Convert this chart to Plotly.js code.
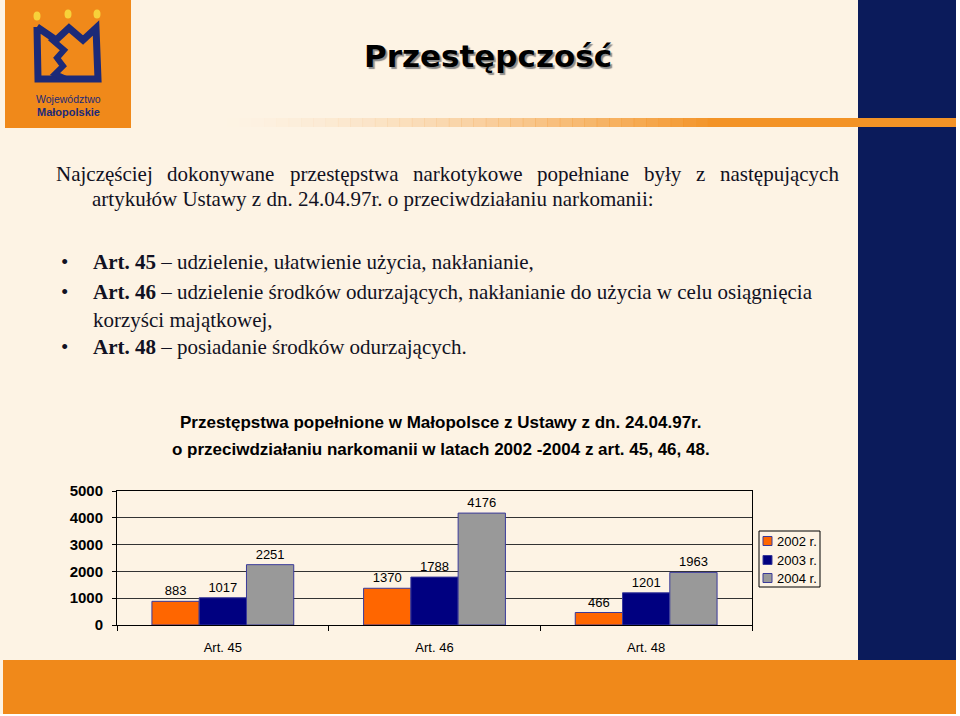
<!DOCTYPE html>
<html>
<head>
<meta charset="utf-8">
<script src="https://cdn.plot.ly/plotly-3.0.1.min.js"></script>
<style>
html,body{margin:0;padding:0;background:#fdf3e4;}
#chart{width:960px;height:716px;}
</style>
</head>
<body>
<div id="chart"></div>
<script>
// ---- data ----
const categories = ['Art. 45', 'Art. 46', 'Art. 48'];
const seriesNames = ['2002 r.', '2003 r.', '2004 r.'];
const values2002 = [883, 1370, 466];
const values2003 = [1017, 1788, 1201];
const values2004 = [2251, 4176, 1963];
const yTicks = [0, 1000, 2000, 3000, 4000, 5000];

const slideTitle = 'Przestępczość';
const introLine1 = 'Najczęściej dokonywane przestępstwa narkotykowe popełniane były z następujących';
const introLine2 = 'artykułów Ustawy z dn. 24.04.97r. o przeciwdziałaniu narkomanii:';
const bullet1 = '<b>Art. 45</b> – udzielenie, ułatwienie użycia, nakłanianie,';
const bullet2a = '<b>Art. 46</b> – udzielenie środków odurzających, nakłanianie do użycia w celu osiągnięcia';
const bullet2b = 'korzyści majątkowej,';
const bullet3 = '<b>Art. 48</b> – posiadanie środków odurzających.';
const chartTitle1 = 'Przestępstwa popełnione w Małopolsce z Ustawy z dn. 24.04.97r.';
const chartTitle2 = 'o przeciwdziałaniu narkomanii w latach 2002 -2004 z art. 45, 46, 48.';

// ---- helpers ----
const W = 960, H = 716;
const px = x => x / W;
const py = y => 1 - y / H;
const CREAM = '#fdf3e4';
const ORANGE = '#f0891a';
const NAVY = '#0b1b5b';
const TEXT = '#111122';
const BODY_SIZE = 21;
const SANS = 'Liberation Sans, Arial, sans-serif';

function rect(x0, y0, x1, y1, color, opacity, line) {
  return {type: 'rect', xref: 'paper', yref: 'paper', layer: 'below',
    x0: px(x0), x1: px(x1), y0: py(y1), y1: py(y0),
    fillcolor: color, opacity: opacity === undefined ? 1 : opacity, line: line || {width: 0}};
}
function pathShape(points, color, width) {
  const d = points.map((p, i) => (i ? 'L' : 'M') + px(p[0]).toFixed(5) + ',' + py(p[1]).toFixed(5)).join(' ');
  return {type: 'path', xref: 'paper', yref: 'paper', path: d, layer: 'above',
    line: {color: color, width: width}, fillcolor: 'rgba(0,0,0,0)'};
}
function ellipse(cx, cy, rx, ry, color) {
  return {type: 'circle', xref: 'paper', yref: 'paper', layer: 'above',
    x0: px(cx - rx), x1: px(cx + rx), y0: py(cy + ry), y1: py(cy - ry),
    fillcolor: color, line: {width: 0}};
}
function label(text, x, y, opts) {
  opts = opts || {};
  return Object.assign({
    text: text, xref: 'paper', yref: 'paper', x: px(x), y: py(y),
    xanchor: 'left', yanchor: 'middle', showarrow: false,
    font: {family: 'Liberation Serif, Times New Roman, serif', size: BODY_SIZE, color: TEXT}
  }, opts);
}

// justified line built from measured word widths
function justified(text, x0, x1, y, fontSize) {
  const c = document.createElement('canvas').getContext('2d');
  c.font = fontSize + 'px "Liberation Serif"';
  const words = text.split(' ');
  const widths = words.map(w => c.measureText(w).width);
  const total = widths.reduce((a, b) => a + b, 0);
  const gap = (x1 - x0 - total) / (words.length - 1);
  let pos = x0;
  const out = [];
  words.forEach((w, i) => {
    out.push(label(w, pos, y, {borderpad: 0}));
    pos += widths[i] + gap;
  });
  return out;
}

// ---- decorations ----
const shapes = [];
shapes.push(rect(956, 0, 960, 716, '#ffffff'));
shapes.push(rect(0, 714, 960, 716, '#ffffff'));
shapes.push(rect(5, 0, 131, 128, ORANGE));           // logo box
shapes.push(rect(858, 0, 956, 660, NAVY));           // right bar
shapes.push(rect(3, 660, 956, 714, ORANGE));         // bottom band
// gradient rule under header
const gSteps = 40, gx0 = 227, gx1 = 720;
for (let i = 0; i < gSteps; i++) {
  const a = gx0 + (gx1 - gx0) * i / gSteps, b = gx0 + (gx1 - gx0) * (i + 1) / gSteps + 0.5;
  shapes.push(rect(a, 118, b, 127, '#f39326', Math.pow((i + 1) / gSteps, 1.6)));
}
shapes.push(rect(gx1, 118, 956, 127, '#f39326'));
// logo crown
shapes.push(ellipse(37, 16, 3.5, 4.5, '#f7d23a'));
shapes.push(ellipse(68, 14, 3.5, 4.5, '#f7d23a'));
shapes.push(ellipse(97, 14, 3.5, 4.5, '#f7d23a'));
shapes.push(pathShape([[37, 27], [38, 79], [98, 79], [96, 28], [83, 40], [69, 28], [56, 40], [37, 27]], '#1c2a78', 7));
shapes.push(pathShape([[50, 38], [64, 50], [57, 58], [63, 66], [55, 74], [66, 79]], '#1c2a78', 6));

// manual legend (matches the reference's compact box)
const colors = ['#ff6600', '#000080', '#999999'];
const legendRows = [541, 560, 578];
shapes.push({type: 'rect', xref: 'paper', yref: 'paper', layer: 'above',
  x0: px(759), x1: px(820), y0: py(587), y1: py(531),
  fillcolor: 'rgba(0,0,0,0)', line: {color: '#000', width: 1}});
seriesNames.forEach((n, i) => {
  shapes.push({type: 'rect', xref: 'paper', yref: 'paper', layer: 'above',
    x0: px(763), x1: px(772), y0: py(legendRows[i] + 4.5), y1: py(legendRows[i] - 4.5),
    fillcolor: colors[i], line: {color: '#3a3a9a', width: 1}});
});

// ---- text ----
const annotations = [];
annotations.push(label('Województwo', 68, 99, {xanchor: 'center',
  font: {family: SANS, size: 10.5, color: '#1c2a78'}}));
annotations.push(label('<b>Małopolskie</b>', 68, 112, {xanchor: 'center',
  font: {family: SANS, size: 11, color: '#1c2a78'}}));
annotations.push(label('<b>' + slideTitle + '</b>', 488, 56, {xanchor: 'center',
  font: {family: 'DejaVu Sans, sans-serif', size: 31, color: '#000000', shadow: '2px 2px 1px #8a8a8a'}}));

justified(introLine1, 55, 838, 174, BODY_SIZE).forEach(a => annotations.push(a));
annotations.push(label(introLine2, 90, 199));
annotations.push(label('•', 59, 262));
annotations.push(label(bullet1, 91, 262));
annotations.push(label('•', 59, 292));
annotations.push(label(bullet2a, 91, 292));
annotations.push(label(bullet2b, 91, 320));
annotations.push(label('•', 59, 347));
annotations.push(label(bullet3, 91, 347));

const chartFont = {family: SANS, size: 17, color: '#000000'};
annotations.push(label('<b>' + chartTitle1 + '</b>', 441, 422, {xanchor: 'center', font: chartFont}));
annotations.push(label('<b>' + chartTitle2 + '</b>', 441, 449, {xanchor: 'center', font: chartFont}));

seriesNames.forEach((n, i) => {
  annotations.push(label(n, 775, legendRows[i], {font: {family: SANS, size: 13, color: '#000'}}));
});

// ---- traces ----
const allValues = [values2002, values2003, values2004];
const traces = allValues.map((vals, i) => ({
  type: 'bar', name: seriesNames[i], x: categories, y: vals,
  text: vals.map(String), textposition: 'outside', cliponaxis: false,
  textfont: {family: SANS, size: 13, color: '#000'},
  marker: {color: colors[i], line: {color: '#3a3a9a', width: 1}},
  hoverinfo: 'skip'
}));

const layout = {
  width: W, height: H,
  margin: {l: 0, r: 0, t: 0, b: 0},
  paper_bgcolor: CREAM, plot_bgcolor: 'rgba(0,0,0,0)',
  barmode: 'group', bargap: 0.33, bargroupgap: 0,
  xaxis: {
    domain: [px(117), px(752)],
    type: 'category',
    showline: true, linecolor: '#000', linewidth: 1, mirror: true,
    ticks: 'outside', tickson: 'boundaries', ticklen: 5, tickcolor: '#000',
    ticklabelstandoff: 10,
    tickfont: {family: SANS, size: 13, color: '#000'},
    showgrid: false, fixedrange: true
  },
  yaxis: {
    domain: [py(625), py(491)],
    range: [0, 5000], tickvals: yTicks, ticktext: yTicks.map(String),
    showline: true, linecolor: '#000', linewidth: 1, mirror: true,
    ticks: 'outside', ticklen: 4, tickcolor: '#000',
    ticklabelstandoff: 6,
    showgrid: true, gridcolor: '#333', gridwidth: 1,
    zeroline: false,
    tickfont: {family: SANS, size: 15, color: '#000', weight: 'bold'},
    fixedrange: true
  },
  showlegend: false,
  shapes: shapes,
  annotations: annotations
};

Plotly.newPlot('chart', traces, layout, {displayModeBar: false, staticPlot: true});
</script>
</body>
</html>
